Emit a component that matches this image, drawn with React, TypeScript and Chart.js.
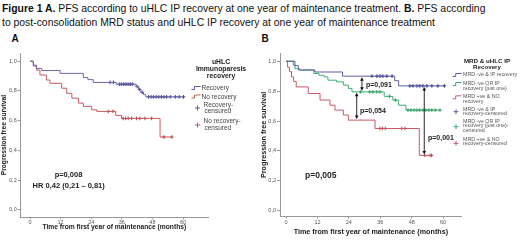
import React, { useEffect, useRef } from "react";
import { Chart, registerables } from "chart.js";

Chart.register(...registerables);

// ---------- shared axis ticks ----------
const xTickValues = [0, 12, 24, 36, 48, 60];
const yTickValues = [0, 0.2, 0.4, 0.6, 0.8, 1.0];

// ---------- Panel A: uHLC immunoparesis recovery ----------
const aRecTimes = [0, 1.3, 2.6, 4.6, 11.8, 20.9, 22.7, 24.8, 33.8, 41.6, 42.5, 43.5, 44.5, 45.4, 60.2];
const aRecSurv = [1, 0.973, 0.951, 0.937, 0.918, 0.89, 0.876, 0.857, 0.845, 0.83, 0.81, 0.79, 0.775, 0.76, 0.76];
const aRecCens = [31.4, 32.7, 35.0, 35.8, 36.6, 37.3, 38.0, 38.8, 39.5, 40.3, 42.0, 43.0, 44.0, 46.5, 47.5, 48.5, 49.5, 50.5, 51.5, 52.5, 53.5, 55.0, 57.0, 58.5, 60.2];

const aNoRecTimes = [0, 1.3, 2.5, 3.9, 6.5, 7.8, 12.4, 14.4, 16.4, 19.0, 20.9, 24.2, 26.2, 33.6, 35.9, 51.0, 55.6];
const aNoRecSurv = [1, 0.967, 0.94, 0.907, 0.873, 0.851, 0.818, 0.784, 0.751, 0.718, 0.696, 0.673, 0.662, 0.635, 0.615, 0.49, 0.49];
const aNoRecCens = [30.7, 32.5, 36.5, 37.5, 38.5, 39.8, 41.8, 43.1, 45.1, 47.7, 52.5, 55.6];

// ---------- Panel B: MRD & uHLC IP recovery ----------
const bBothTimes = [0, 3.4, 4.7, 11.0, 21.6, 41.5, 43.0, 60.5];
const bBothSurv = [1, 0.97, 0.942, 0.928, 0.9, 0.87, 0.835, 0.835];
const bBothCens = [32.8, 34.7, 35.9, 37.0, 38.5, 40.5, 47.3, 48.5, 50.0, 51.1, 52.3, 53.8, 55.7, 58.0, 60.5];

const bOneTimes = [0, 2.8, 3.4, 5.2, 10.6, 12.6, 14.5, 16.0, 19.3, 21.9, 23.8, 25.2, 37.5, 40.8, 43.0, 45.8, 58.8];
const bOneSurv = [1, 0.973, 0.95, 0.94, 0.918, 0.906, 0.895, 0.873, 0.862, 0.84, 0.818, 0.795, 0.765, 0.74, 0.706, 0.673, 0.673];
const bOneCens = [28.5, 32.0, 33.2, 34.7, 35.9, 39.5, 41.8, 46.6, 47.7, 48.9, 50.0, 51.1, 52.3, 53.4, 54.6, 55.7, 57.0, 58.8];

const bNoneTimes = [0, 0.6, 1.3, 2.1, 2.9, 3.9, 8.5, 13.0, 16.8, 18.7, 21.9, 23.8, 34.0, 50.9, 55.6];
const bNoneSurv = [1, 0.96, 0.93, 0.895, 0.865, 0.828, 0.784, 0.74, 0.706, 0.673, 0.64, 0.606, 0.55, 0.37, 0.37];
const bNoneCens = [35.9, 36.8, 37.9, 44.2, 45.4, 53.0, 55.0, 55.6];

// pairwise comparisons drawn as arrows (time, upper curve, lower curve)
const bArrowTimes = [29, 27, 52.8];
const bArrowUpper = [0, 1, 0];
const bArrowLower = [1, 2, 2];

type Curve = { times: number[]; surv: number[]; cens: number[]; line: string; mark: string };

function survAt(times: number[], surv: number[], t: number) {
  let v = surv[0];
  for (let i = 0; i < times.length; i++) {
    if (times[i] <= t) v = surv[i];
    else break;
  }
  return v;
}

const FONT = '"Liberation Sans", Arial, sans-serif';

type Sym = { kind: "step" | "plus"; x: number; y: number; color: string };

type Panel = {
  left: number;
  curves: Curve[];
  xMin: number;
  xMax: number;
  yMin: number;
  yMax: number;
  padRight: number;
  padTop: number;
  yWidth: number;
  xHeight: number;
  titleSize: number;
  xTitleBottom: number;
  arrows: { t: number; up: number; lo: number }[];
  symbols: Sym[];
};

function makeOverlay(p: Panel) {
  return {
    id: "overlay",
    afterDatasetsDraw(chart: any) {
      const ctx = chart.ctx as CanvasRenderingContext2D;
      const xs = chart.scales.x;
      const ys = chart.scales.y;
      ctx.save();
      ctx.strokeStyle = "#111";
      ctx.fillStyle = "#111";
      ctx.lineWidth = 0.9;
      p.arrows.forEach((a) => {
        const cu = p.curves[a.up];
        const cl = p.curves[a.lo];
        const x = xs.getPixelForValue(a.t);
        const y1 = ys.getPixelForValue(survAt(cu.times, cu.surv, a.t)) + 1;
        const y2 = ys.getPixelForValue(survAt(cl.times, cl.surv, a.t)) - 1;
        ctx.beginPath();
        ctx.moveTo(x, y1 + 2);
        ctx.lineTo(x, y2 - 2);
        ctx.stroke();
        ctx.beginPath();
        ctx.moveTo(x, y1);
        ctx.lineTo(x - 1.8, y1 + 3.5);
        ctx.lineTo(x + 1.8, y1 + 3.5);
        ctx.closePath();
        ctx.fill();
        ctx.beginPath();
        ctx.moveTo(x, y2);
        ctx.lineTo(x - 1.8, y2 - 3.5);
        ctx.lineTo(x + 1.8, y2 - 3.5);
        ctx.closePath();
        ctx.fill();
      });
      p.symbols.forEach((s) => {
        ctx.strokeStyle = s.color;
        ctx.lineWidth = 1;
        ctx.beginPath();
        if (s.kind === "step") {
          ctx.moveTo(s.x, s.y + 1.5);
          ctx.lineTo(s.x + 3, s.y + 1.5);
          ctx.lineTo(s.x + 3, s.y - 1.5);
          ctx.lineTo(s.x + 9, s.y - 1.5);
        } else {
          ctx.moveTo(s.x - 2.5, s.y);
          ctx.lineTo(s.x + 2.5, s.y);
          ctx.moveTo(s.x, s.y - 2.5);
          ctx.lineTo(s.x, s.y + 2.5);
        }
        ctx.stroke();
      });
      ctx.restore();
    },
  };
}

function buildConfig(p: Panel): any {
  const lines = p.curves.map((c) => ({
    data: c.times.map((t, i) => ({ x: t, y: c.surv[i] })),
    stepped: "before",
    borderColor: c.line,
    borderWidth: 1,
    pointRadius: 0,
    fill: false,
  }));
  const marks = p.curves.map((c) => ({
    data: c.cens.map((t) => ({ x: t, y: survAt(c.times, c.surv, t) })),
    showLine: false,
    pointStyle: "cross",
    pointRadius: 1.8,
    pointBorderWidth: 1,
    pointBorderColor: c.mark,
    borderColor: c.mark,
  }));
  const tickFont = { family: FONT, size: 5.5 };
  return {
    type: "line",
    data: { datasets: [...lines, ...marks] },
    options: {
      animation: false,
      responsive: false,
      maintainAspectRatio: false,
      layout: { padding: { left: 0, top: p.padTop, right: p.padRight, bottom: 0 } },
      plugins: { legend: { display: false }, tooltip: { enabled: false } },
      scales: {
        x: {
          type: "linear",
          min: p.xMin,
          max: p.xMax,
          afterBuildTicks: (s: any) => {
            s.ticks = xTickValues.map((v) => ({ value: v }));
          },
          afterFit: (s: any) => {
            s.height = p.xHeight;
          },
          ticks: { font: tickFont, color: "#555", padding: 0, maxRotation: 0, callback: (v: any) => String(v) },
          grid: { drawOnChartArea: false, drawTicks: true, tickLength: 2, color: "#999" },
          border: { display: true, color: "#999", width: 1 },
          title: {
            display: true,
            text: "Time from first year of maintenance (months)",
            font: { family: FONT, size: p.titleSize, weight: "bold" },
            color: "#222",
            padding: { top: 0, bottom: p.xTitleBottom },
          },
        },
        y: {
          type: "linear",
          min: p.yMin,
          max: p.yMax,
          afterBuildTicks: (s: any) => {
            s.ticks = yTickValues.map((v) => ({ value: v }));
          },
          afterFit: (s: any) => {
            s.width = p.yWidth;
          },
          ticks: {
            font: tickFont,
            color: "#555",
            padding: 1,
            callback: (v: any) => Number(v).toFixed(1).replace(".", ","),
          },
          grid: { drawOnChartArea: false, drawTicks: true, tickLength: 3, color: "#999" },
          border: { display: true, color: "#999", width: 1 },
          title: {
            display: true,
            text: "Progression free survival",
            font: { family: FONT, size: p.titleSize, weight: "bold" },
            color: "#222",
            padding: { top: 0, bottom: 0 },
          },
        },
      },
    },
    plugins: [makeOverlay(p)],
  };
}

const panelA: Panel = {
  left: 0,
  curves: [
    { times: aRecTimes, surv: aRecSurv, cens: aRecCens, line: "#6a6aa8", mark: "#3c3c8c" },
    { times: aNoRecTimes, surv: aNoRecSurv, cens: aNoRecCens, line: "#c85a5c", mark: "#b83a40" },
  ],
  xMin: -3.65,
  xMax: 69.8,
  yMin: -0.05,
  yMax: 1.055,
  padRight: 52,
  padTop: 23,
  yWidth: 20.7,
  xHeight: 23.7,
  titleSize: 6.7,
  xTitleBottom: 10,
  arrows: [],
  symbols: [
    { kind: "step", x: 191.5, y: 58, color: "#5a5aa0" },
    { kind: "step", x: 191.5, y: 66.5, color: "#c85a5c" },
    { kind: "plus", x: 197.5, y: 78, color: "#5a5aa0" },
    { kind: "plus", x: 197.5, y: 95, color: "#c85a5c" },
  ],
};

const panelB: Panel = {
  left: 260,
  curves: [
    { times: bBothTimes, surv: bBothSurv, cens: bBothCens, line: "#5e5ea4", mark: "#34348a" },
    { times: bOneTimes, surv: bOneSurv, cens: bOneCens, line: "#3fae76", mark: "#2a9c5c" },
    { times: bNoneTimes, surv: bNoneSurv, cens: bNoneCens, line: "#c65a64", mark: "#c0404e" },
  ],
  xMin: -2.3,
  xMax: 67.1,
  yMin: -0.04,
  yMax: 1.055,
  padRight: 58.3,
  padTop: 23,
  yWidth: 20,
  xHeight: 24.3,
  titleSize: 7.2,
  xTitleBottom: 4.5,
  arrows: bArrowTimes.map((t, i) => ({ t, up: bArrowUpper[i], lo: bArrowLower[i] })),
  symbols: [
    { kind: "step", x: 192.7, y: 45, color: "#5e5ea4" },
    { kind: "step", x: 192.7, y: 54, color: "#3fae76" },
    { kind: "step", x: 192.7, y: 67.3, color: "#c65a64" },
    { kind: "plus", x: 196, y: 81.7, color: "#5e5ea4" },
    { kind: "plus", x: 196, y: 96.7, color: "#3fae76" },
    { kind: "plus", x: 196, y: 113.3, color: "#c65a64" },
  ],
};

function KM({ panel }: { panel: Panel }) {
  const ref = useRef<HTMLCanvasElement>(null);
  useEffect(() => {
    const chart = new Chart(ref.current as HTMLCanvasElement, buildConfig(panel));
    return () => chart.destroy();
  }, []);
  return (
    <canvas
      ref={ref}
      width={260}
      height={211}
      style={{ position: "absolute", left: panel.left, top: 30, width: 260, height: 211 }}
    />
  );
}

function T(props: { x: number; y: number; s: number; b?: boolean; c?: string; a?: string; children: any }) {
  const { x, y, s, b, c, a, children } = props;
  const tx = a === "center" ? "-50%" : a === "right" ? "-100%" : "0";
  return (
    <div
      style={{
        position: "absolute",
        left: x,
        top: y,
        transform: `translate(${tx}, -50%)`,
        fontSize: s,
        fontWeight: b ? 700 : 400,
        color: c || "#222",
        lineHeight: 1,
        whiteSpace: "nowrap",
        fontFamily: FONT,
      }}
    >
      {children}
    </div>
  );
}

export default function App() {
  return (
    <div style={{ position: "fixed", left: 0, top: 0, width: 520, height: 241, background: "#fff", overflow: "hidden" }}>
      <T x={2} y={9} s={10.4} c="#111">
        <b>Figure 1 A.</b> PFS according to uHLC IP recovery at one year of maintenance treatment. <b>B.</b> PFS according
      </T>
      <T x={2} y={23} s={10.4} c="#111">
        to post-consolidation MRD status and uHLC IP recovery at one year of maintenance treatment
      </T>
      <T x={15} y={38.5} s={10} b c="#111" a="center">A</T>
      <T x={265} y={38.5} s={10} b c="#111" a="center">B</T>

      <KM panel={panelA} />
      <KM panel={panelB} />

      {/* Panel A legend */}
      <T x={221} y={62} s={6.8} b a="center">uHLC</T>
      <T x={221} y={69} s={6.8} b a="center">Immunoparesis</T>
      <T x={221} y={76} s={6.8} b a="center">recovery</T>
      <T x={201.5} y={88} s={6.5} c="#444">Recovery</T>
      <T x={201.5} y={96.5} s={6.5} c="#444">No recovery</T>
      <T x={203.5} y={104.5} s={6.5} c="#444">Recovery-</T>
      <T x={204.5} y={111} s={6.5} c="#444">censured</T>
      <T x={203.5} y={120.5} s={6.5} c="#444">No recovery-</T>
      <T x={204.5} y={128} s={6.5} c="#444">censured</T>

      {/* Panel A statistics */}
      <T x={68.5} y={175} s={7.5} b a="center">p=0,008</T>
      <T x={68.7} y={186} s={7.5} b a="center">HR 0,42 (0,21 – 0,81)</T>

      {/* Panel B legend */}
      <T x={487} y={60.5} s={6.2} b a="center">MRD &amp; uHLC IP</T>
      <T x={487} y={66.5} s={6.2} b a="center">Recovery</T>
      <T x={463} y={75} s={5.3} c="#555">MRD -ve &amp; IP recovery</T>
      <T x={463} y={84} s={5.3} c="#555">MRD -ve OR IP</T>
      <T x={463} y={89} s={5.3} c="#555">recovery (just one)</T>
      <T x={463} y={97.3} s={5.3} c="#555">MRD +ve &amp; NO</T>
      <T x={463} y={102.3} s={5.3} c="#555">recovery</T>
      <T x={463} y={110} s={5.3} c="#555">MRD -ve &amp; IP</T>
      <T x={463} y={114.3} s={5.3} c="#555">recovery-censured</T>
      <T x={463} y={122} s={5.3} c="#555">MRD -ve OR IP</T>
      <T x={463} y={126.3} s={5.3} c="#555">recovery (just one)-</T>
      <T x={463} y={130.7} s={5.3} c="#555">censured</T>
      <T x={463} y={140} s={5.3} c="#555">MRD +ve &amp; NO</T>
      <T x={463} y={144.3} s={5.3} c="#555">recovery-censured</T>

      {/* Panel B statistics */}
      <T x={366} y={84} s={7} b>p=0,091</T>
      <T x={360} y={110} s={7} b>p=0,054</T>
      <T x={428} y={136.7} s={7} b>p=0,001</T>
      <T x={305} y={175} s={8.5} b>p=0,005</T>
    </div>
  );
}
